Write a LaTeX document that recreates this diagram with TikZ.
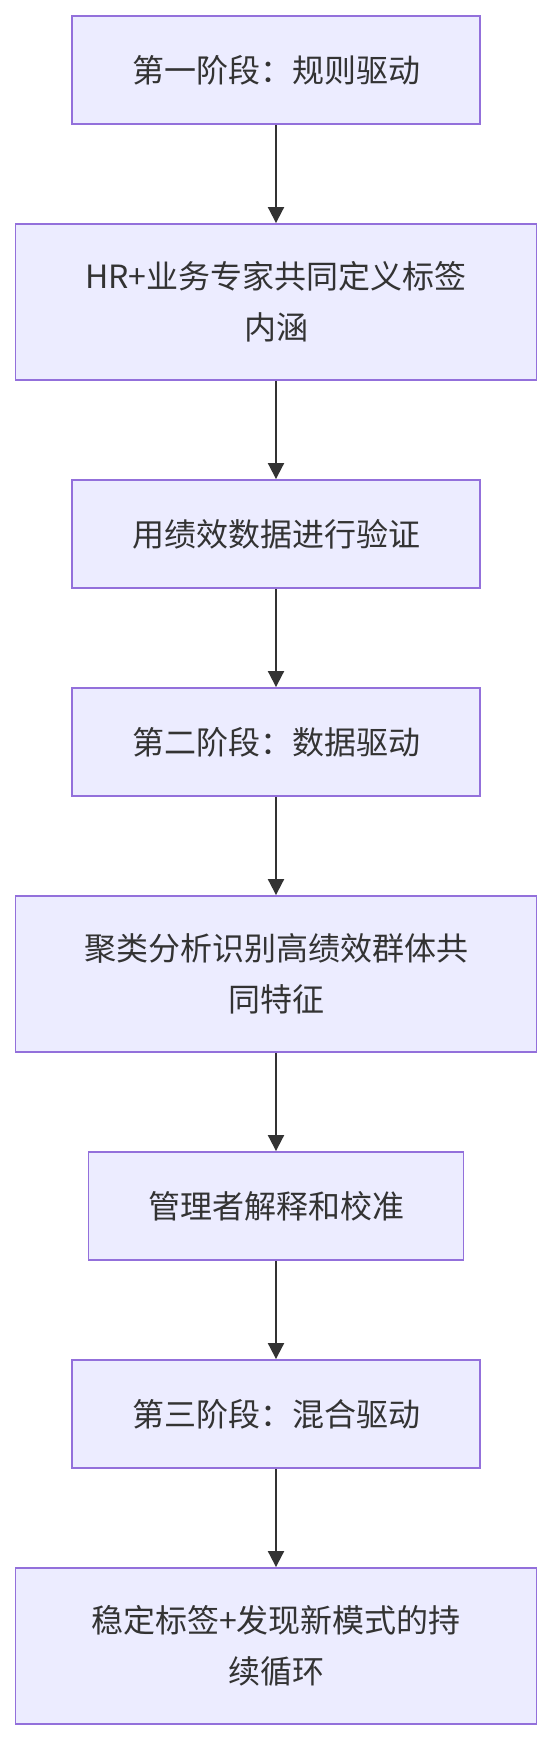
\documentclass[tikz,border=0pt]{standalone}
\usepackage{fontspec}
\setmainfont{Noto Sans CJK SC}
\usetikzlibrary{arrows.meta}
\definecolor{boxfill}{HTML}{ECECFF}
\definecolor{boxline}{HTML}{9370DB}
\definecolor{txt}{HTML}{333333}
\begin{document}
\begin{tikzpicture}[x=1pt,y=-1pt,
  flowbox/.style={draw=boxline, fill=boxfill, line width=1.9pt, rectangle, inner sep=0pt,
    text=txt, align=center, font=\fontsize{32}{51}\selectfont},
  narrow/.style={flowbox, minimum width=408pt, minimum height=108pt},
  wide/.style={flowbox, minimum width=521pt, minimum height=156pt},
  mid/.style={flowbox, minimum width=375pt, minimum height=108pt},
  flowarrow/.style={draw=txt, line width=2pt, -{Triangle[length=16pt,width=16pt]}}]
\useasboundingbox (0,0) rectangle (552,1740);
\node[narrow] (a) at (276,70) {第一阶段：规则驱动};
\node[wide] (b) at (276,302) {HR+业务专家共同定义标签\\内涵};
\node[narrow] (c) at (276,534) {用绩效数据进行验证};
\node[narrow] (d) at (276,742) {第二阶段：数据驱动};
\node[wide] (e) at (276,974) {聚类分析识别高绩效群体共\\同特征};
\node[mid] (f) at (276,1206) {管理者解释和校准};
\node[narrow] (g) at (276,1414) {第三阶段：混合驱动};
\node[wide] (h) at (276,1646) {稳定标签+发现新模式的持\\续循环};
\draw[flowarrow] (a) -- (b);
\draw[flowarrow] (b) -- (c);
\draw[flowarrow] (c) -- (d);
\draw[flowarrow] (d) -- (e);
\draw[flowarrow] (e) -- (f);
\draw[flowarrow] (f) -- (g);
\draw[flowarrow] (g) -- (h);
\end{tikzpicture}
\end{document}
